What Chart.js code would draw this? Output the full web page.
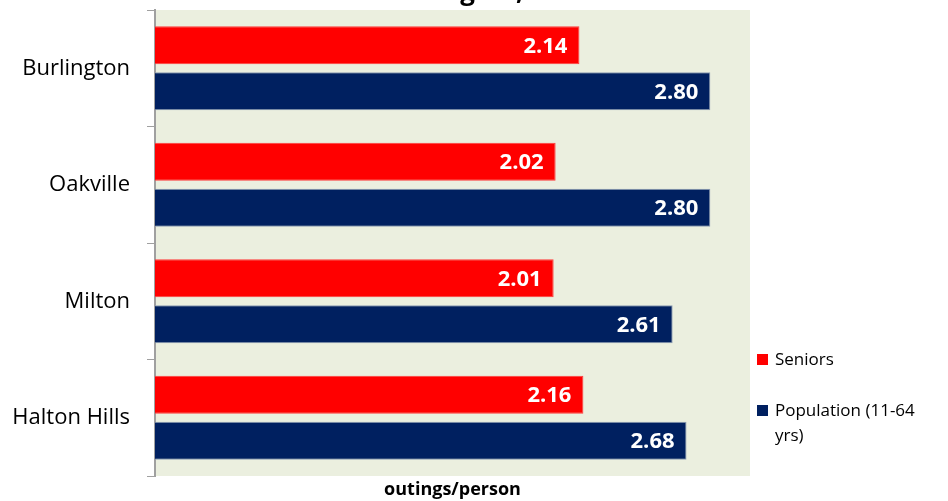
<!DOCTYPE html>
<html>
<head>
<meta charset="utf-8">
<script src="https://cdn.jsdelivr.net/npm/chart.js@4/dist/chart.umd.min.js"></script>
<style>
html,body{margin:0;padding:0;background:#fff;}
#wrap{position:relative;width:948px;height:501px;}
</style>
</head>
<body>
<div id="wrap"><canvas id="c" width="948" height="501"></canvas></div>
<script>
const titleText = 'Halton Region, 2011';
const categories = ['Burlington', 'Oakville', 'Milton', 'Halton Hills'];
const seriesNames = ['Seniors', 'Population (11-64 yrs)'];
const seniors = [2.14, 2.02, 2.01, 2.16];
const population = [2.80, 2.80, 2.61, 2.68];
const xAxisTitle = 'outings/person';

const FONT = '"Open Sans", Lato, sans-serif';

const bgPlugin = {
  id: 'bgPlugin',
  beforeDraw(chart) {
    const {ctx, chartArea: a} = chart;
    ctx.save();
    ctx.fillStyle = '#EBEFDF';
    ctx.fillRect(a.left, a.top, a.right - a.left, a.bottom - a.top);
    ctx.restore();
  }
};

const labelPlugin = {
  id: 'labelPlugin',
  afterDatasetsDraw(chart) {
    const {ctx} = chart;
    ctx.save();
    ctx.fillStyle = '#fff';
    ctx.font = 'bold 22px ' + FONT;
    ctx.textAlign = 'right';
    ctx.textBaseline = 'middle';
    chart.data.datasets.forEach((ds, di) => {
      chart.getDatasetMeta(di).data.forEach((bar, i) => {
        ctx.fillText(ds.data[i].toFixed(2), bar.x - 12, bar.y + 1);
      });
    });
    ctx.restore();
  },
  afterDraw(chart) {
    const {ctx} = chart;
    ctx.save();
    // cut-off title
    ctx.fillStyle = '#000';
    ctx.font = 'bold 26px ' + FONT;
    ctx.textAlign = 'left';
    ctx.textBaseline = 'alphabetic';
    ctx.fillText(titleText, 333, 0);
    // legend
    ctx.font = '17px ' + FONT;
    ctx.textBaseline = 'middle';
    const items = [
      {lines: ['Seniors'], y: 360},
      {lines: ['Population (11-64', 'yrs)'], y: 411}
    ];
    items.forEach((it, k) => {
      const ds = chart.data.datasets[k];
      ctx.fillStyle = ds.backgroundColor;
      ctx.fillRect(757, it.y - 6, 11, 11);
      ctx.fillStyle = '#000';
      it.lines.forEach((ln, j) => ctx.fillText(ln, 775, it.y + j * 25));
    });
    ctx.restore();
  }
};

new Chart(document.getElementById('c'), {
  type: 'bar',
  data: {
    labels: categories,
    datasets: [
      {label: seriesNames[0], data: seniors, backgroundColor: '#FF0000', borderColor: '#FF3B3B', borderWidth: 1,
       categoryPercentage: 0.79, barPercentage: 0.826},
      {label: seriesNames[1], data: population, backgroundColor: '#002060', borderColor: '#8A9AB2', borderWidth: 1,
       categoryPercentage: 0.79, barPercentage: 0.826}
    ]
  },
  options: {
    indexAxis: 'y',
    responsive: false,
    animation: false,
    devicePixelRatio: 1,
    layout: {padding: {left: 0, right: 198, top: 10, bottom: 0}},
    plugins: {legend: {display: false}, tooltip: {enabled: false}, title: {display: false}},
    scales: {
      x: {
        min: 0, max: 3,
        ticks: {display: false},
        grid: {display: false},
        border: {display: false},
        title: {display: true, text: xAxisTitle, color: '#000',
                font: {family: FONT, size: 18, weight: 'bold'}, padding: {top: 2, bottom: 0}},
        afterFit(s) { s.height = 25; s.paddingLeft = 0; s.paddingRight = 0; }
      },
      y: {
        ticks: {color: '#000', font: {family: FONT, size: 22}, padding: 17},
        grid: {drawOnChartArea: false, drawTicks: true, tickLength: 8, color: '#A0A0A0', lineWidth: 1},
        border: {display: true, color: '#A0A0A0', width: 2},
        afterFit(s) { s.width = 155; s.paddingTop = 0; s.paddingBottom = 0; }
      }
    }
  },
  plugins: [bgPlugin, labelPlugin]
});
</script>
</body>
</html>
